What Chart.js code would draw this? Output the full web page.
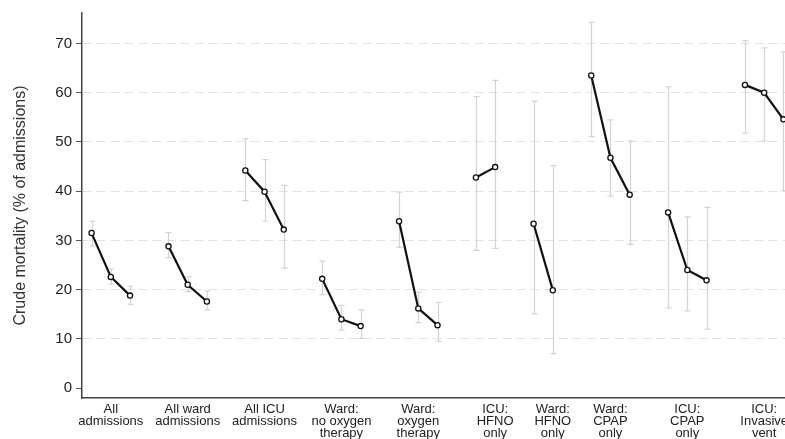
<!DOCTYPE html>
<html>
<head>
<meta charset="utf-8">
<script src="https://cdn.jsdelivr.net/npm/chart.js@4/dist/chart.umd.min.js"></script>
<style>
  html, body { margin: 0; padding: 0; background: #fff; overflow: hidden; }
  #wrap { width: 800px; height: 439px; }
</style>
</head>
<body>
<div id="wrap"><canvas id="chart" width="800" height="439"></canvas></div>
<script>
// categories (multi-line labels under the x axis)
const categories = [
  ["All", "admissions"],
  ["All ward", "admissions"],
  ["All ICU", "admissions"],
  ["Ward:", "no oxygen", "therapy"],
  ["Ward:", "oxygen", "therapy"],
  ["ICU:", "HFNO", "only"],
  ["Ward:", "HFNO", "only"],
  ["Ward:", "CPAP", "only"],
  ["ICU:", "CPAP", "only"],
  ["ICU:", "Invasive", "vent"]
];

// crude mortality (%) per period, one list per category
const mortality = [
  [31.5, 22.6, 18.8],
  [28.8, 21.0, 17.6],
  [44.2, 39.9, 32.2],
  [22.2, 14.0, 12.6],
  [33.9, 16.2, 12.8],
  [42.8, 44.9],
  [33.4, 19.9],
  [63.5, 46.8, 39.3],
  [35.7, 24.0, 21.9],
  [61.6, 60.0, 54.6]
];

// 95% CI lower / upper
const ciLower = [
  [28.9, 21.1, 17.0],
  [26.5, 19.6, 15.9],
  [38.1, 33.9, 24.4],
  [19.0, 11.8, 10.1],
  [28.6, 13.3, 9.5],
  [28.0, 28.4],
  [15.1, 7.0],
  [51.1, 39.0, 29.2],
  [16.3, 15.7, 12.0],
  [51.8, 50.2, 40.1]
];
const ciUpper = [
  [33.9, 24.2, 20.7],
  [31.6, 22.6, 19.7],
  [50.7, 46.4, 41.2],
  [25.8, 16.8, 15.9],
  [39.8, 19.5, 17.4],
  [59.2, 62.5],
  [58.3, 45.2],
  [74.3, 54.5, 50.2],
  [61.2, 34.8, 36.7],
  [70.6, 69.1, 68.3]
];

const yTicks = [0, 10, 20, 30, 40, 50, 60, 70];

// build slots: each group takes its points plus one empty slot
let slot = 1;
const labelSlots = [];
const datasets = mortality.map((vals, g) => {
  const pts = vals.map((v, i) => ({ x: slot + i, y: v, lo: ciLower[g][i], hi: ciUpper[g][i] }));
  labelSlots.push(slot + 1);
  slot += vals.length + 1;
  return {
    data: pts,
    borderColor: "#111",
    borderWidth: 2.2,
    pointRadius: 2.6,
    pointBorderWidth: 1.3,
    pointBackgroundColor: "#fff",
    pointBorderColor: "#111",
    tension: 0
  };
});

// grey CI whiskers drawn behind the lines
const errorBars = {
  id: "errorBars",
  beforeDatasetsDraw(chart) {
    const { ctx, scales: { x, y } } = chart;
    ctx.save();
    ctx.strokeStyle = "#d3d3d3";
    ctx.lineWidth = 1.2;
    chart.data.datasets.forEach(ds => {
      ds.data.forEach(p => {
        const px = Math.round(x.getPixelForValue(p.x)) + 0.5;
        const yl = y.getPixelForValue(p.lo);
        const yh = y.getPixelForValue(p.hi);
        ctx.beginPath();
        ctx.moveTo(px, yl); ctx.lineTo(px, yh);
        ctx.moveTo(px - 3, yl); ctx.lineTo(px + 3, yl);
        ctx.moveTo(px - 3, yh); ctx.lineTo(px + 3, yh);
        ctx.stroke();
      });
    });
    ctx.restore();
  }
};

new Chart(document.getElementById("chart"), {
  type: "line",
  data: { datasets },
  plugins: [errorBars],
  options: {
    responsive: false,
    animation: false,
    devicePixelRatio: 1,
    layout: { padding: { left: 0, right: 7, top: 12, bottom: 0 } },
    plugins: { legend: { display: false }, tooltip: { enabled: false } },
    scales: {
      x: {
        type: "linear",
        min: 0.5,
        max: 37.5,
        afterBuildTicks: s => { s.ticks = labelSlots.map(v => ({ value: v })); },
        afterFit: s => { s.height = 41; },
        grid: { display: false, drawTicks: false },
        border: { display: true, color: "#444", width: 1.5 },
        ticks: {
          autoSkip: false,
          maxRotation: 0,
          minRotation: 0,
          padding: 5,
          color: "#222",
          font: { family: "'Liberation Sans', Arial, sans-serif", size: 13, lineHeight: 0.95 },
          callback: (v, i) => categories[i]
        }
      },
      y: {
        min: -2,
        max: 76.2,
        afterBuildTicks: s => { s.ticks = yTicks.map(v => ({ value: v })); },
        afterFit: s => { s.width = 82; },
        grid: {
          color: c => (c.tick && c.tick.value === 0 ? "rgba(0,0,0,0)" : "#e2e2e2"),
          lineWidth: 1,
          tickColor: "#555",
          tickLength: 6,
          tickBorderDash: []
        },
        border: { display: true, color: "#444", width: 1.5, dash: [9, 5] },
        ticks: {
          padding: 4,
          color: "#222",
          font: { family: "'Liberation Sans', Arial, sans-serif", size: 15 }
        },
        title: {
          display: true,
          text: "Crude mortality (% of admissions)",
          color: "#333",
          padding: { top: 11, bottom: 0 },
          font: { family: "'Liberation Sans', Arial, sans-serif", size: 16 }
        }
      }
    }
  }
});
</script>
</body>
</html>
